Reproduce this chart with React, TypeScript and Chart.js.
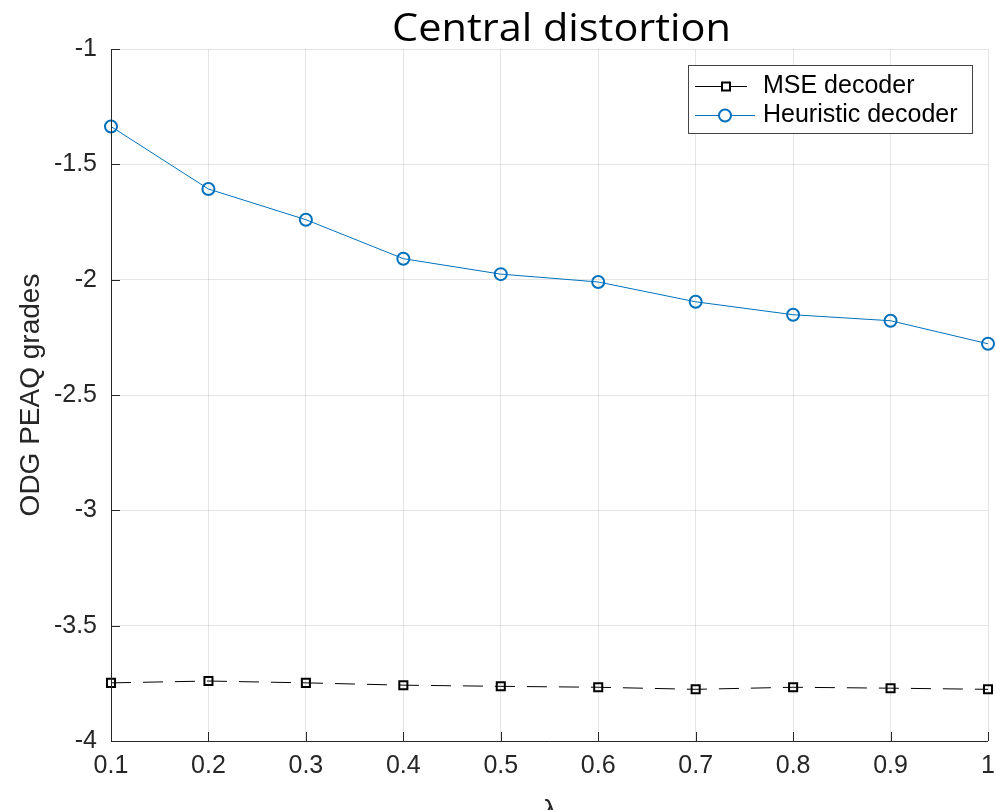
import React, { useEffect, useRef } from "react";
import { Chart, registerables } from "chart.js";

Chart.register(...registerables);

const lambdas = [0.1, 0.2, 0.3, 0.4, 0.5, 0.6, 0.7, 0.8, 0.9, 1.0];
const mseDecoder = [-3.748, -3.740, -3.748, -3.758, -3.763, -3.767, -3.776, -3.767, -3.771, -3.776];
const heuristicDecoder = [-1.336, -1.607, -1.740, -1.909, -1.976, -2.010, -2.096, -2.152, -2.178, -2.278];
const seriesNames = ["MSE decoder", "Heuristic decoder"];
const titleText = "Central distortion";
const yLabel = "ODG PEAQ grades";
const xLabel = "λ";

const AXIS = "#262626";
const GRID = "rgba(38,38,38,0.12)";
const BLUE = "#0072BD";
const FONT = "'Liberation Sans', Arial, Helvetica, sans-serif";

const decorPlugin = {
  id: "decor",
  afterDraw(chart: any) {
    const ctx = chart.ctx;
    const { left, right, top, bottom } = chart.chartArea;
    const xs = chart.scales.x;
    const ys = chart.scales.y;
    ctx.save();
    // axes lines
    ctx.strokeStyle = AXIS;
    ctx.lineWidth = 1;
    ctx.beginPath();
    ctx.moveTo(left + 0.5, top);
    ctx.lineTo(left + 0.5, bottom + 0.5);
    ctx.lineTo(right, bottom + 0.5);
    ctx.stroke();
    // inward ticks
    ctx.beginPath();
    xs.ticks.forEach((t: any) => {
      const px = Math.round(xs.getPixelForValue(t.value)) + 0.5;
      ctx.moveTo(px, bottom);
      ctx.lineTo(px, bottom - 9);
    });
    ys.ticks.forEach((t: any) => {
      const py = Math.round(ys.getPixelForValue(t.value)) + 0.5;
      ctx.moveTo(left, py);
      ctx.lineTo(left + 9, py);
    });
    ctx.stroke();

    // title
    ctx.fillStyle = "#000";
    ctx.font = "38px 'Open Sans', sans-serif";
    ctx.textBaseline = "alphabetic";
    ctx.textAlign = "left";
    const w = ctx.measureText(titleText).width;
    const targetW = 339;
    ctx.save();
    ctx.translate(392, 41);
    ctx.scale(targetW / w, 1);
    ctx.fillText(titleText, 0, 0);
    ctx.restore();

    // x label
    ctx.fillStyle = AXIS;
    ctx.font = "28px " + FONT;
    ctx.textAlign = "center";
    ctx.textBaseline = "top";
    ctx.fillText(xLabel, 550, 797);

    // legend
    const lx = 688, ly = 65, lw = 284, lh = 68;
    ctx.fillStyle = "#fff";
    ctx.fillRect(lx, ly, lw, lh);
    ctx.strokeStyle = "#444";
    ctx.lineWidth = 1;
    ctx.strokeRect(lx + 0.5, ly + 0.5, lw, lh);
    const rows = [
      { y: 86.5, color: "#000", x1: 695, x2: 747, mx: 726, shape: "rect" },
      { y: 115.5, color: BLUE, x1: 695, x2: 755, mx: 725, shape: "circle" },
    ];
    rows.forEach((r, i) => {
      ctx.strokeStyle = r.color;
      ctx.lineWidth = 1;
      ctx.beginPath();
      ctx.moveTo(r.x1, r.y);
      ctx.lineTo(r.x2, r.y);
      ctx.stroke();
      ctx.lineWidth = 2;
      ctx.fillStyle = "#fff";
      ctx.beginPath();
      if (r.shape === "rect") {
        ctx.rect(r.mx - 4, r.y - 4, 8, 8);
      } else {
        ctx.arc(r.mx, r.y, 6, 0, Math.PI * 2);
      }
      ctx.fill();
      ctx.stroke();
      ctx.fillStyle = "#000";
      ctx.font = "25px " + FONT;
      ctx.textAlign = "left";
      ctx.textBaseline = "middle";
      ctx.fillText(seriesNames[i], 763, r.y);
    });
    ctx.restore();
  },
};

export default function App() {
  const ref = useRef<HTMLCanvasElement | null>(null);
  useEffect(() => {
    document.body.style.margin = "0";
    const canvas = ref.current;
    if (!canvas) return;
    const chart = new Chart(canvas, {
      type: "line",
      data: {
        datasets: [
          {
            label: seriesNames[0],
            data: lambdas.map((x, i) => ({ x, y: mseDecoder[i] })),
            borderColor: "#000",
            borderWidth: 1,
            borderDash: [20, 12],
            pointStyle: "rect",
            pointRadius: 5.7,
            pointBorderWidth: 2,
            pointBorderColor: "#000",
            pointBackgroundColor: "rgba(255,255,255,0)",
            clip: false,
            tension: 0,
          },
          {
            label: seriesNames[1],
            data: lambdas.map((x, i) => ({ x, y: heuristicDecoder[i] })),
            borderColor: BLUE,
            borderWidth: 1,
            pointStyle: "circle",
            pointRadius: 6,
            pointBorderWidth: 2,
            pointBorderColor: BLUE,
            pointBackgroundColor: "rgba(255,255,255,0)",
            clip: false,
            tension: 0,
          },
        ],
      },
      options: {
        animation: false,
        responsive: false,
        maintainAspectRatio: false,
        layout: { padding: { top: 49, right: 8, left: 0, bottom: 0 } },
        plugins: {
          legend: { display: false },
          title: { display: false },
          tooltip: { enabled: false },
        },
        scales: {
          x: {
            type: "linear",
            min: 0.1,
            max: 1,
            afterFit: (s: any) => {
              s.height = 69;
              s.paddingLeft = 0;
              s.paddingRight = 0;
            },
            ticks: {
              stepSize: 0.1,
              color: AXIS,
              font: { family: FONT, size: 25 },
              padding: 10,
              maxRotation: 0,
              autoSkip: false,
              callback: (v: any) => String(Number(Number(v).toFixed(1))),
            },
            grid: { color: GRID, drawTicks: false, lineWidth: 1 },
            border: { display: false },
          },
          y: {
            type: "linear",
            min: -4,
            max: -1,
            afterFit: (s: any) => {
              s.width = 111;
              s.paddingTop = 0;
              s.paddingBottom = 0;
            },
            ticks: {
              stepSize: 0.5,
              color: AXIS,
              font: { family: FONT, size: 25 },
              padding: 14,
              callback: (v: any) => String(Number(Number(v).toFixed(1))),
            },
            grid: { color: GRID, drawTicks: false, lineWidth: 1 },
            border: { display: false },
            title: {
              display: true,
              text: yLabel,
              color: AXIS,
              font: { family: FONT, size: 28 },
              padding: { top: 14, bottom: 0 },
            },
          },
        },
      },
      plugins: [decorPlugin],
    });
    return () => chart.destroy();
  }, []);
  return (
    <div style={{ position: "absolute", left: 0, top: 0, width: 996, height: 810 }}>
      <canvas ref={ref} width={996} height={810} style={{ width: 996, height: 810, display: "block" }} />
    </div>
  );
}
